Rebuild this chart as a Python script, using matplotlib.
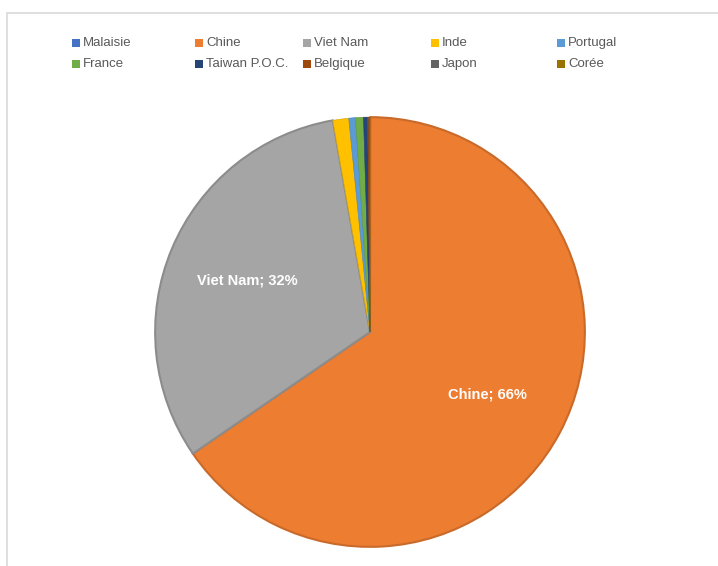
import numpy as np
import matplotlib
matplotlib.use("Agg")
import matplotlib.pyplot as plt
from matplotlib.patches import Rectangle
from matplotlib.colors import to_rgb

plt.rcParams['font.family'] = ['Liberation Sans', 'DejaVu Sans']

#%% Data
pays = ['Malaisie', 'Chine', 'Viet Nam', 'Inde', 'Portugal',
        'France', 'Taiwan P.O.C.', 'Belgique', 'Japon', 'Corée']
parts = [0.03, 65.6, 31.9, 1.2, 0.5, 0.6, 0.3, 0.1, 0.05, 0.03]
couleurs = ['#4472C4', '#ED7D31', '#A5A5A5', '#FFC000', '#5B9BD5',
            '#70AD47', '#264478', '#9E480E', '#636363', '#997300']
etiquettes = ['', 'Chine; 66%', 'Viet Nam; 32%', '', '', '', '', '', '', '']

W, H = 718, 566
fig = plt.figure(figsize=(W / 100, H / 100), dpi=100)

# chart area border
fig.add_artist(Rectangle((7 / W, -0.05), 1.1, 1 - 13 / H + 0.05,
                         transform=fig.transFigure, fill=False,
                         edgecolor='#d9d9d9', linewidth=1.2))

#%% Pie
cx, cy, r = 370, 332, 217
ax = fig.add_axes([(cx - r) / W, (H - cy - r) / H, 2 * r / W, 2 * r / H])
wedges, texts = ax.pie(parts, colors=couleurs, startangle=90, counterclock=False,
                       labels=etiquettes, labeldistance=0.62,
                       textprops=dict(color='white', fontsize=10.5, fontweight='bold',
                                      ha='center', va='center'))
for w, c, p in zip(wedges, couleurs, parts):
    w.set_edgecolor(tuple(v * 0.85 for v in to_rgb(c)))
    w.set_linewidth(1.5 if p > 5 else 0.4)
ax.set_xlim(-1.01, 1.01)
ax.set_ylim(-1.01, 1.01)
ax.set_aspect('equal')

#%% Legend (Excel-like fixed columns)
col_x = [72, 195, 303, 431, 557]
row_y = [43, 64]
for i, (nom, c) in enumerate(zip(pays, couleurs)):
    x = col_x[i % 5]
    y = row_y[i // 5]
    fig.add_artist(Rectangle((x / W, 1 - (y + 4) / H), 8 / W, 8 / H,
                             transform=fig.transFigure, facecolor=c, edgecolor='none'))
    fig.text((x + 11) / W, 1 - y / H, nom, fontsize=9.5, color='#595959',
             ha='left', va='center')

fig.savefig('out.png', dpi=100)
